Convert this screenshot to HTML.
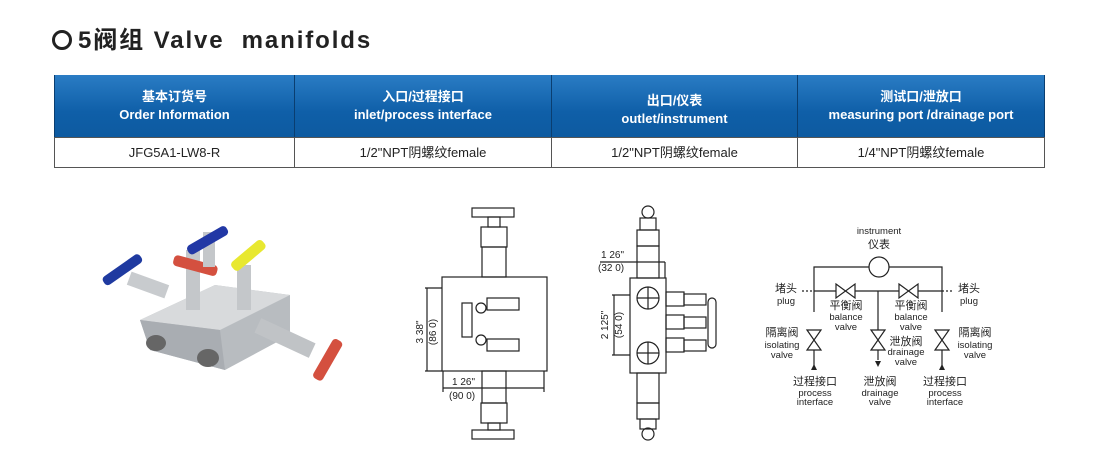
<!DOCTYPE html>
<html><head><meta charset="utf-8"><style>
body{margin:0;width:1100px;height:463px;background:#fff;overflow:hidden;position:relative;font-family:"Liberation Sans","Noto Sans CJK SC",sans-serif}
.t{position:absolute;left:52px;top:20px;font-size:24px;font-weight:bold;color:#222;letter-spacing:1.9px;white-space:pre}
.c{display:inline-block;width:14px;height:14px;border:3px solid #222;border-radius:50%;vertical-align:-2px;margin-right:6px}
.h{position:absolute;top:75px;height:62px;background:linear-gradient(#2a7cc4,#0f5fa8 60%,#0d5aa0);color:#fff;font-size:13px;font-weight:bold;line-height:18px;text-align:center;box-sizing:border-box;border-left:1px solid #0a3e70;display:flex;flex-direction:column;justify-content:center}
.d{position:absolute;top:137px;height:31px;font-size:13px;color:#222;text-align:center;line-height:30px;box-sizing:border-box;border:1px solid #555;border-right:none}
</style></head><body>
<div class="t"><span class="c"></span>5阀组 Valve  manifolds</div>
<div class="h" style="left:54px;width:240px">基本订货号<br>Order Information</div>
<div class="h" style="left:294px;width:257px;justify-content:flex-start;padding-top:13px">入口/过程接口<br>inlet/process interface</div>
<div class="h" style="left:551px;width:246px;padding-top:8px">出口/仪表<br>outlet/instrument</div>
<div class="h" style="left:797px;width:248px;border-right:1px solid #0a3e70">测试口/泄放口<br>measuring port /drainage port</div>
<div class="d" style="left:54px;width:240px">JFG5A1-LW8-R</div>
<div class="d" style="left:294px;width:257px">1/2"NPT阴螺纹female</div>
<div class="d" style="left:551px;width:246px">1/2"NPT阴螺纹female</div>
<div class="d" style="left:797px;width:248px;border-right:1px solid #555">1/4"NPT阴螺纹female</div>
<svg width="1100" height="463" style="position:absolute;left:0;top:0" font-family="Liberation Sans,Noto Sans CJK SC,sans-serif">
<g>
<polygon points="140,320 215,285 290,295 290,335 225,370 150,350" fill="#b8bcc0"/>
<polygon points="140,320 215,285 290,295 220,330" fill="#d8dadc"/>
<polygon points="140,320 220,330 225,370 150,350" fill="#a9adb2"/>
<ellipse cx="156" cy="343" rx="10" ry="8" fill="#666"/><ellipse cx="208" cy="358" rx="11" ry="9" fill="#666"/>
<rect x="128" y="278" width="40" height="14" fill="#c8cbce" transform="rotate(20 148 285)"/>
<rect x="100" y="265" width="45" height="10" rx="4" fill="#1f3aa0" transform="rotate(-35 122 270)"/>
<rect x="186" y="250" width="14" height="60" fill="#c4c7ca"/>
<rect x="173" y="260" width="45" height="11" rx="4" fill="#d4503f" transform="rotate(15 195 265)"/>
<rect x="203" y="232" width="12" height="35" fill="#c4c7ca"/>
<rect x="185" y="235" width="45" height="10" rx="4" fill="#2238a5" transform="rotate(-30 208 240)"/>
<rect x="237" y="265" width="14" height="45" fill="#c4c7ca"/>
<rect x="228" y="250" width="40" height="11" rx="4" fill="#e8e830" transform="rotate(-40 248 255)"/>
<rect x="255" y="330" width="60" height="16" fill="#c0c3c6" transform="rotate(25 285 338)"/>
<rect x="305" y="355" width="45" height="11" rx="4" fill="#d4503f" transform="rotate(-60 327 360)"/>
</g>
<g fill="none" stroke="#222" stroke-width="1.2">
<rect x="472" y="208" width="42" height="9"/><rect x="488" y="217" width="12" height="10"/>
<rect x="481" y="227" width="26" height="20"/><rect x="482" y="247" width="24" height="30"/>
<rect x="442" y="277" width="105" height="94"/>
<line x1="425" y1="288" x2="442" y2="288"/><line x1="425" y1="371" x2="442" y2="371"/><line x1="427" y1="288" x2="427" y2="371"/>
<line x1="443" y1="388" x2="544" y2="388"/><line x1="443" y1="371" x2="443" y2="392"/><line x1="544" y1="371" x2="544" y2="392"/>
<rect x="462" y="303" width="10" height="34"/><circle cx="481" cy="308" r="5"/><circle cx="481" cy="340" r="5"/>
<rect x="487" y="298" width="32" height="12"/><rect x="487" y="339" width="32" height="12"/>
<rect x="482" y="371" width="24" height="32"/><rect x="481" y="403" width="26" height="20"/><rect x="488" y="423" width="12" height="7"/><rect x="472" y="430" width="42" height="9"/>
<circle cx="648" cy="212" r="6"/><rect x="640" y="218" width="16" height="12"/><rect x="637" y="230" width="22" height="16"/><rect x="637" y="246" width="22" height="32"/>
<rect x="630" y="278" width="36" height="95"/><circle cx="648" cy="298" r="11"/><circle cx="648" cy="353" r="11"/>
<line x1="637" y1="298" x2="659" y2="298"/><line x1="648" y1="287" x2="648" y2="309"/><line x1="637" y1="353" x2="659" y2="353"/><line x1="648" y1="342" x2="648" y2="364"/>
<line x1="612" y1="295" x2="630" y2="295"/><line x1="612" y1="355" x2="630" y2="355"/><line x1="614" y1="295" x2="614" y2="355"/>
<line x1="600" y1="262" x2="665" y2="262"/><line x1="665" y1="262" x2="665" y2="278"/>
<rect x="666" y="292" width="18" height="14"/><rect x="666" y="315" width="18" height="14"/><rect x="666" y="338" width="18" height="14"/>
<rect x="684" y="294" width="22" height="11"/><rect x="684" y="317" width="22" height="11"/><rect x="684" y="340" width="22" height="11"/>
<rect x="708" y="298" width="8" height="50" rx="4"/>
<rect x="637" y="373" width="22" height="30"/><rect x="637" y="403" width="22" height="16"/><rect x="640" y="419" width="16" height="10"/><circle cx="648" cy="434" r="6"/>
</g>
<g font-size="10" fill="#222">
<text transform="translate(423,332) rotate(-90)" text-anchor="middle">3 38"</text>
<text transform="translate(436,332) rotate(-90)" text-anchor="middle">(86 0)</text>
<text x="452" y="385">1 26"</text><text x="449" y="399">(90 0)</text>
<text x="601" y="258">1 26"</text><text x="598" y="271">(32 0)</text>
<text transform="translate(608,325) rotate(-90)" text-anchor="middle">2 125"</text>
<text transform="translate(622,325) rotate(-90)" text-anchor="middle">(54 0)</text>
</g>
<g fill="none" stroke="#222" stroke-width="1.2">
<circle cx="879" cy="267" r="10"/>
<polyline points="814,312 814,267 869,267"/><polyline points="889,267 942,267 942,312"/>
<line x1="814" y1="291" x2="836" y2="291"/><line x1="855" y1="291" x2="899" y2="291"/><line x1="918" y1="291" x2="942" y2="291"/>
<line x1="878" y1="291" x2="878" y2="330"/>
<line x1="814" y1="350" x2="814" y2="366"/><line x1="942" y1="350" x2="942" y2="366"/><line x1="878" y1="350" x2="878" y2="360"/>
<line x1="802" y1="291" x2="814" y2="291" stroke-dasharray="2,2"/><line x1="942" y1="291" x2="954" y2="291" stroke-dasharray="2,2"/>
<path d="M836,284 L855,298 L855,284 L836,298Z"/><path d="M899,284 L918,298 L918,284 L899,298Z"/>
<path d="M807,330 L821,350 L807,350 L821,330Z"/><path d="M871,330 L885,350 L871,350 L885,330Z"/><path d="M935,330 L949,350 L935,350 L949,330Z"/>
</g>
<g fill="#222"><path d="M811,370 L814,364 L817,370Z"/><path d="M939,370 L942,364 L945,370Z"/><path d="M875,361 L881,361 L878,367Z"/></g>
<g font-size="9.5" fill="#222" text-anchor="middle">
<text x="879" y="234">instrument</text><text x="879" y="248" font-size="11">仪表</text>
<text x="786" y="292" font-size="11">堵头</text><text x="786" y="304">plug</text>
<text x="969" y="292" font-size="11">堵头</text><text x="969" y="304">plug</text>
<text x="846" y="309" font-size="11">平衡阀</text><text x="846" y="320">balance</text><text x="846" y="330">valve</text>
<text x="911" y="309" font-size="11">平衡阀</text><text x="911" y="320">balance</text><text x="911" y="330">valve</text>
<text x="782" y="336" font-size="11">隔离阀</text><text x="782" y="348">isolating</text><text x="782" y="358">valve</text>
<text x="975" y="336" font-size="11">隔离阀</text><text x="975" y="348">isolating</text><text x="975" y="358">valve</text>
<text x="906" y="345" font-size="11">泄放阀</text><text x="906" y="355">drainage</text><text x="906" y="365">valve</text>
<text x="815" y="385" font-size="11">过程接口</text><text x="815" y="396">process</text><text x="815" y="405">interface</text>
<text x="880" y="385" font-size="11">泄放阀</text><text x="880" y="396">drainage</text><text x="880" y="405">valve</text>
<text x="945" y="385" font-size="11">过程接口</text><text x="945" y="396">process</text><text x="945" y="405">interface</text>
</g>
</svg>
</body></html>
